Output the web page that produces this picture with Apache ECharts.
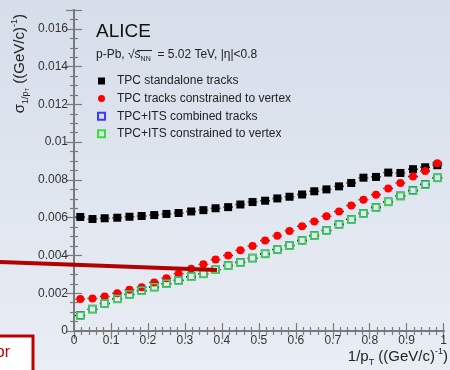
<!DOCTYPE html>
<html lang="en">
<head>
    <meta charset="UTF-8">
    <title>ALICE p-Pb 1/pT resolution</title>
    <script src="https://cdn.jsdelivr.net/npm/echarts@6/dist/echarts.min.js"></script>
    <style>
        html, body { margin: 0; padding: 0; }
        #main { width: 450px; height: 370px; }
    </style>
</head>
<body>
<div id="main"></div>
<script type="text/javascript">
    // bin centres in 1/pT ((GeV/c)^-1)
    var binCenters = [0.017, 0.05, 0.083, 0.117, 0.15, 0.183, 0.217, 0.25, 0.283, 0.317,
        0.35, 0.383, 0.417, 0.45, 0.483, 0.517, 0.55, 0.583, 0.617, 0.65,
        0.683, 0.717, 0.75, 0.783, 0.817, 0.85, 0.883, 0.917, 0.95, 0.983];
    var xErr = 0.013;

    var tpcStandalone = [0.00604, 0.00593, 0.00597, 0.00600, 0.00605, 0.00609, 0.00614, 0.00620, 0.00625, 0.00633,
        0.00640, 0.00650, 0.00656, 0.00670, 0.00683, 0.00690, 0.00702, 0.00711, 0.00723, 0.00740,
        0.00750, 0.00766, 0.00784, 0.00812, 0.00816, 0.00839, 0.00837, 0.00857, 0.00867, 0.00878];
    var tpcConstrained = [0.00169, 0.00172, 0.00183, 0.00200, 0.00218, 0.00232, 0.00257, 0.00280, 0.00303, 0.00330,
        0.00353, 0.00378, 0.00400, 0.00427, 0.00450, 0.00479, 0.00504, 0.00530, 0.00555, 0.00580,
        0.00608, 0.00633, 0.00665, 0.00695, 0.00722, 0.00755, 0.00784, 0.00818, 0.00847, 0.00888];
    var itsCombined = [0.00083, 0.00116, 0.00146, 0.00171, 0.00194, 0.00214, 0.00233, 0.00251, 0.00269, 0.00288,
        0.00303, 0.00325, 0.00347, 0.00364, 0.00386, 0.00409, 0.00432, 0.00453, 0.00480, 0.00506,
        0.00533, 0.00566, 0.00592, 0.00624, 0.00656, 0.00685, 0.00716, 0.00745, 0.00777, 0.00812];
    var itsConstrained = [0.00081, 0.00115, 0.00145, 0.00170, 0.00193, 0.00213, 0.00232, 0.00250, 0.00268, 0.00287,
        0.00302, 0.00324, 0.00346, 0.00363, 0.00385, 0.00408, 0.00431, 0.00452, 0.00479, 0.00504,
        0.00532, 0.00564, 0.00590, 0.00622, 0.00654, 0.00683, 0.00714, 0.00743, 0.00775, 0.00810];

    var names = ['TPC standalone tracks', 'TPC tracks constrained to vertex',
        'TPC+ITS combined tracks', 'TPC+ITS constrained to vertex'];

    var font = 'Liberation Sans, Arial, Helvetica, sans-serif';

    function pts(vals) {
        return binCenters.map(function (x, i) { return [x, vals[i]]; });
    }

    // horizontal bin-width bars, left out under the marker
    function errRender(params, api) {
        var x = api.value(0), y = api.value(1);
        var c = api.coord([x, y]);
        var l = api.coord([x - xErr, y]);
        var r = api.coord([x + xErr, y]);
        var gap = 4;
        var st = {stroke: '#000', lineWidth: 1.4};
        return {
            type: 'group', children: [
                {type: 'line', shape: {x1: l[0], y1: c[1], x2: c[0] - gap, y2: c[1]}, style: st},
                {type: 'line', shape: {x1: c[0] + gap, y1: c[1], x2: r[0], y2: c[1]}, style: st}
            ]
        };
    }

    function errSeries(vals) {
        return {type: 'custom', renderItem: errRender, data: pts(vals), z: 2, silent: true};
    }

    // ROOT style frame: ticks point into the plot
    function axisCommon() {
        return {
            min: 0,
            axisLine: {show: true, lineStyle: {color: '#7a7a7a', width: 2}},
            axisTick: {show: true, inside: true, length: 8, lineStyle: {color: '#7a7a7a', width: 1.2}},
            minorTick: {show: true, length: 4, lineStyle: {color: '#7a7a7a', width: 1.2}},
            splitLine: {show: false},
            axisLabel: {fontFamily: font, fontSize: 12, color: '#333'}
        };
    }

    var xBottom = axisCommon();
    Object.assign(xBottom, {type: 'value', position: 'bottom', max: 1, interval: 0.1});
    xBottom.minorTick.splitNumber = 5;
    xBottom.axisLabel.margin = 4;
    var xTop = axisCommon();
    Object.assign(xTop, {type: 'value', position: 'top', max: 1, interval: 0.1});
    xTop.minorTick.splitNumber = 5;
    xTop.axisLabel = {show: false};

    var yLeft = axisCommon();
    Object.assign(yLeft, {type: 'value', position: 'left', max: 0.017, interval: 0.002});
    yLeft.minorTick.splitNumber = 4;
    yLeft.axisLabel.margin = 6;
    yLeft.axisLabel.showMaxLabel = false;
    var yRight = axisCommon();
    Object.assign(yRight, {type: 'value', position: 'right', max: 0.017, interval: 0.002});
    yRight.minorTick.splitNumber = 4;
    yRight.axisLabel = {show: false};

    var option = {
        animation: false,
        backgroundColor: {
            type: 'linear', x: 0, y: 0, x2: 0, y2: 1,
            colorStops: [{offset: 0, color: '#d6deea'}, {offset: 1, color: '#e9edf4'}]
        },
        grid: {left: 74, right: 2, top: 10, bottom: 39},
        xAxis: [xBottom, xTop],
        yAxis: [yLeft, yRight],
        legend: {
            data: names,
            orient: 'vertical',
            left: 92, top: 70,
            itemWidth: 7, itemHeight: 7, itemGap: 5.6,
            textStyle: {fontFamily: font, fontSize: 12, color: '#222', padding: [0, 0, 0, 7]}
        },
        series: [
            errSeries(tpcStandalone),
            errSeries(tpcConstrained),
            errSeries(itsCombined),
            errSeries(itsConstrained),
            {name: names[0], type: 'scatter', symbol: 'rect', symbolSize: 8, z: 3,
                itemStyle: {color: '#000', opacity: 1}, data: pts(tpcStandalone)},
            {name: names[1], type: 'scatter', symbol: 'circle', symbolSize: 8, z: 3,
                itemStyle: {color: '#ff0000', opacity: 1}, data: pts(tpcConstrained)},
            {name: names[2], type: 'scatter', symbol: 'rect', symbolSize: 7, z: 3,
                itemStyle: {color: 'rgba(0,0,0,0)', borderColor: '#3b3bff', borderWidth: 1.5, opacity: 1},
                data: pts(itsCombined)},
            {name: names[3], type: 'scatter', symbol: 'rect', symbolSize: 7, z: 4,
                itemStyle: {color: 'rgba(0,0,0,0)', borderColor: '#39dd39', borderWidth: 1.5, opacity: 1},
                data: pts(itsConstrained)}
        ],
        graphic: [
            {type: 'text', left: 96, top: 22, z: 10,
                style: {text: 'ALICE', font: '19px ' + font, fill: '#111'}},
            {type: 'text', left: 96, top: 49, z: 10,
                style: {
                    text: '{n|p-Pb, √}{n|s}{sub|NN}{n|  = 5.02 TeV, |η|<0.8}',
                    rich: {
                        n: {fontFamily: font, fontSize: 12, fill: '#222', lineHeight: 16},
                        sub: {fontFamily: font, fontSize: 7, fill: '#222', verticalAlign: 'bottom', lineHeight: 8}
                    }
                }},
            // root sign bar over s_NN
            {type: 'line', z: 10, shape: {x1: 137, y1: 50.5, x2: 152, y2: 50.5},
                style: {stroke: '#222', lineWidth: 1}},
            // y axis title
            {type: 'text', x: 20, y: 14, rotation: Math.PI / 2, z: 10,
                style: {
                    text: '{n|σ}{sub|1/p}{sub2|T}{n| ((GeV/c)}{sup|-1}{n|)}',
                    align: 'right', verticalAlign: 'middle',
                    rich: {
                        n: {fontFamily: font, fontSize: 15, fill: '#222', lineHeight: 20},
                        sub: {fontFamily: font, fontSize: 9, fill: '#222', verticalAlign: 'bottom', lineHeight: 10},
                        sub2: {fontFamily: font, fontSize: 6, fill: '#222', verticalAlign: 'bottom', lineHeight: 6},
                        sup: {fontFamily: font, fontSize: 9, fill: '#222', verticalAlign: 'top', lineHeight: 10}
                    }
                }},
            // x axis title
            {type: 'text', x: 448, y: 357, z: 10,
                style: {
                    text: '{n|1/p}{sub|T}{n| ((GeV/c)}{sup|-1}{n|)}',
                    align: 'right', verticalAlign: 'middle',
                    rich: {
                        n: {fontFamily: font, fontSize: 15, fill: '#222', lineHeight: 20},
                        sub: {fontFamily: font, fontSize: 9, fill: '#222', verticalAlign: 'bottom', lineHeight: 10},
                        sup: {fontFamily: font, fontSize: 9, fill: '#222', verticalAlign: 'top', lineHeight: 10}
                    }
                }},
            // dark red pointer overlaid on the slide
            {type: 'line', z: 20, shape: {x1: -2, y1: 262, x2: 217, y2: 270},
                style: {stroke: '#b30000', lineWidth: 4}},
            // cut-off red box at the bottom left
            {type: 'rect', z: 20, shape: {x: -4, y: 336, width: 37, height: 40},
                style: {fill: '#fff', stroke: '#c00000', lineWidth: 3}},
            {type: 'text', z: 21, x: 10, y: 353,
                style: {text: 'or', align: 'right', verticalAlign: 'middle',
                    font: '16px ' + font, fill: '#c00000'}}
        ]
    };

    var myChart = echarts.init(document.getElementById('main'));
    myChart.setOption(option);
</script>
</body>
</html>
